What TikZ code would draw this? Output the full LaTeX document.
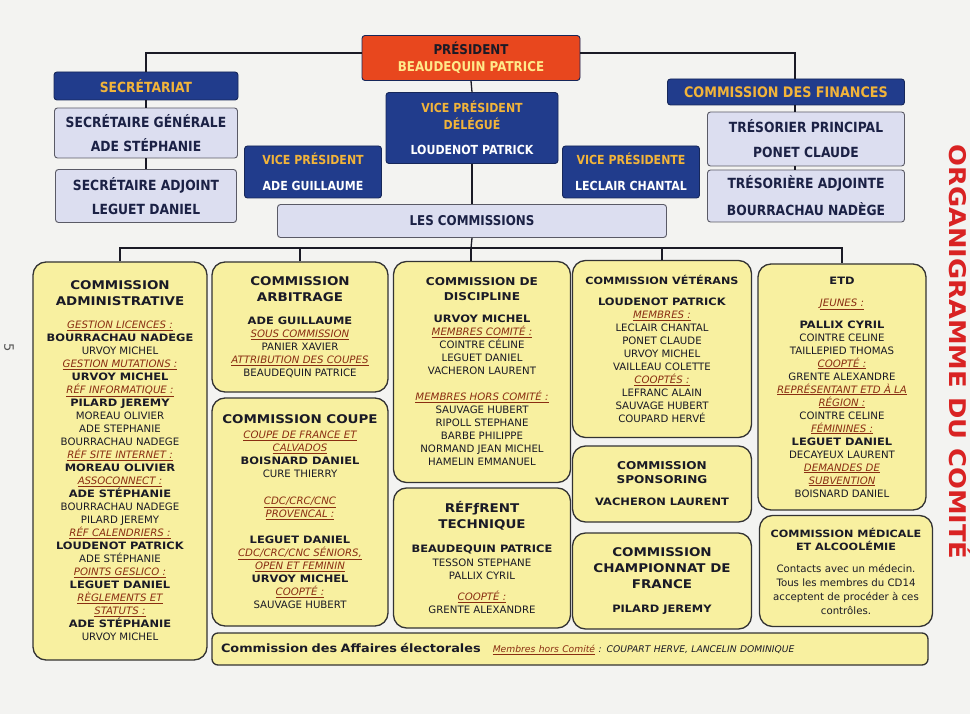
\documentclass[tikz,border=0pt]{standalone}
\usepackage{fontspec}
\setmainfont{DejaVu Sans}[BoldFeatures={FakeStretch=1.12}]
\newfontfamily\condfont[FakeStretch=0.88]{DejaVu Sans}
\usetikzlibrary{positioning}
\definecolor{paper}{HTML}{F3F3F1}
\definecolor{cdred}{HTML}{E8471E}
\definecolor{cdblue}{HTML}{213C8C}
\definecolor{navyline}{HTML}{16275A}
\definecolor{gold}{HTML}{F2B43A}
\definecolor{paleyellow}{HTML}{FFE98A}
\definecolor{lav}{HTML}{DCDEF0}
\definecolor{greyline}{HTML}{5A5A66}
\definecolor{navyink}{HTML}{1B2145}
\definecolor{yel}{HTML}{F8F0A0}
\definecolor{boxline}{HTML}{333333}
\definecolor{ink}{HTML}{1A1A26}
\definecolor{lblred}{HTML}{8A2E12}
\definecolor{titlered}{HTML}{D92323}
\definecolor{pagegrey}{HTML}{555555}
\newcommand{\lbl}[1]{{\itshape\color{lblred}\underline{#1}}}
\newcommand{\topfont}{\condfont\bfseries\fontsize{13.5}{15}\selectfont}
\newcommand{\lavfont}{\condfont\bfseries\fontsize{14}{15}\selectfont}
\newcommand{\headfont}{\bfseries\fontsize{12}{15}\selectfont}
\newcommand{\headsmall}{\bfseries\fontsize{10.8}{14}\selectfont}
\newcommand{\headtiny}{\bfseries\fontsize{10}{13}\selectfont}
\newcommand{\bodyfont}{\fontsize{10.2}{13}\selectfont}
\tikzset{
link/.style={draw=ink, line width=1.3pt},
top box/.style={rounded corners=3pt, line width=0.9pt, align=center, inner sep=1pt, font=\topfont},
blue box/.style={top box, draw=navyline, fill=cdblue, text=white},
lav box/.style={top box, draw=greyline, fill=lav, text=navyink, font=\lavfont},
com box/.style={draw=boxline, fill=yel, rounded corners=13pt, line width=1.3pt, align=center, inner sep=1pt, text=ink, font=\bodyfont}
}
\begin{document}
\begin{tikzpicture}[x=1pt,y=-1pt]
\useasboundingbox (0,0) rectangle (970,714);
\clip (0,0) rectangle (970,714);
\fill[paper] (0,0) rectangle (970,714);
% bureau
\node[top box, draw=navyline, fill=cdred, minimum width=218pt, minimum height=45pt] (pres) at (471,58) {{\color{ink}PRÉSIDENT}\\[2pt] {\color{paleyellow}BEAUDEQUIN PATRICE}};
\node[blue box, font=\condfont\bfseries\fontsize{14}{15}\selectfont, minimum width=184pt, minimum height=28pt] (secr) at (146,86) {\color{gold}SECRÉTARIAT};
\node[blue box, font=\condfont\bfseries\fontsize{14.5}{15}\selectfont, minimum width=237pt, minimum height=26pt] (fin) at (786,92) {\color{gold}COMMISSION DES FINANCES};
\node[blue box, font=\condfont\bfseries\fontsize{12.5}{15}\selectfont, minimum width=172pt, minimum height=71pt] (vpd) at (472,128) {{\color{gold}VICE PRÉSIDENT}\\[2pt] {\color{gold}DÉLÉGUÉ}\\[10pt] LOUDENOT PATRICK};
\node[blue box, font=\condfont\bfseries\fontsize{12.5}{15}\selectfont, minimum width=137pt, minimum height=52pt] (vpa) at (313,172) {{\color{gold}VICE PRÉSIDENT}\\[11pt] ADE GUILLAUME};
\node[blue box, font=\condfont\bfseries\fontsize{12.5}{15}\selectfont, minimum width=137pt, minimum height=52pt] (vpb) at (631,172) {{\color{gold}VICE PRÉSIDENTE}\\[11pt] LECLAIR CHANTAL};
\node[lav box, minimum width=183pt, minimum height=50pt] (sg) at (146,133) {SECRÉTAIRE GÉNÉRALE\\[9pt] ADE STÉPHANIE};
\node[lav box, minimum width=181pt, minimum height=53pt] (sa) at (146,196) {SECRÉTAIRE ADJOINT\\[9pt] LEGUET DANIEL};
\node[lav box, minimum width=197pt, minimum height=54pt] (tp) at (806,139) {TRÉSORIER PRINCIPAL\\[10pt] PONET CLAUDE};
\node[lav box, minimum width=197pt, minimum height=52pt] (ta) at (806,196) {TRÉSORIÈRE ADJOINTE\\[10pt] BOURRACHAU NADÈGE};
\node[lav box, font=\condfont\bfseries\fontsize{13.5}{14}\selectfont, minimum width=389pt, minimum height=33pt] (lc) at (472,221) {LES COMMISSIONS};
% commissions
\node[com box, minimum width=174pt, minimum height=398pt] (adm) at (120,461) {{\headfont COMMISSION}\\[3pt] {\headfont ADMINISTRATIVE}\\[10pt]
\lbl{GESTION LICENCES :}\\ \textbf{BOURRACHAU NADEGE}\\ URVOY MICHEL\\
\lbl{GESTION MUTATIONS :}\\ \textbf{URVOY MICHEL}\\
\lbl{RÉF INFORMATIQUE :}\\ \textbf{PILARD JEREMY}\\ MOREAU OLIVIER\\ ADE STEPHANIE\\ BOURRACHAU NADEGE\\
\lbl{RÉF SITE INTERNET :}\\ \textbf{MOREAU OLIVIER}\\
\lbl{ASSOCONNECT :}\\ \textbf{ADE STÉPHANIE}\\ BOURRACHAU NADEGE\\ PILARD JEREMY\\
\lbl{RÉF CALENDRIERS :}\\ \textbf{LOUDENOT PATRICK}\\ ADE STÉPHANIE\\
\lbl{POINTS GESLICO :}\\ \textbf{LEGUET DANIEL}\\
\lbl{RÈGLEMENTS ET}\\ \lbl{STATUTS :}\\ \textbf{ADE STÉPHANIE}\\ URVOY MICHEL};
\node[com box, minimum width=176pt, minimum height=130pt] (arb) at (300,327) {{\headfont COMMISSION}\\[3pt] {\headfont ARBITRAGE}\\[10pt]
\textbf{ADE GUILLAUME}\\ \lbl{SOUS COMMISSION}\\ PANIER XAVIER\\ \lbl{ATTRIBUTION DES COUPES}\\ BEAUDEQUIN PATRICE};
\node[com box, minimum width=176pt, minimum height=228pt] (coupe) at (300,512) {{\headfont COMMISSION COUPE}\\[2pt]
\lbl{COUPE DE FRANCE ET}\\ \lbl{CALVADOS}\\ \textbf{BOISNARD DANIEL}\\ CURE THIERRY\\[14pt]
\lbl{CDC/CRC/CNC}\\ \lbl{PROVENCAL :}\\[13pt]
\textbf{LEGUET DANIEL}\\ \lbl{CDC/CRC/CNC SÉNIORS,}\\ \lbl{OPEN ET FEMININ}\\ \textbf{URVOY MICHEL}\\ \lbl{COOPTÉ :}\\ SAUVAGE HUBERT};
\node[com box, minimum width=177pt, minimum height=221pt] (disc) at (482,372) {{\headsmall COMMISSION DE}\\[2pt] {\headsmall DISCIPLINE}\\[9pt]
\textbf{URVOY MICHEL}\\ \lbl{MEMBRES COMITÉ :}\\ COINTRE CÉLINE\\ LEGUET DANIEL\\ VACHERON LAURENT\\[13pt]
\lbl{MEMBRES HORS COMITÉ :}\\ SAUVAGE HUBERT\\ RIPOLL STEPHANE\\ BARBE PHILIPPE\\ NORMAND JEAN MICHEL\\ HAMELIN EMMANUEL};
\node[com box, minimum width=177pt, minimum height=140pt] (tech) at (482,558) {{\headfont RÉFƒRENT}\\[3pt] {\headfont TECHNIQUE}\\[11pt]
\textbf{BEAUDEQUIN PATRICE}\\[1pt] TESSON STEPHANE\\ PALLIX CYRIL\\[8pt] \lbl{COOPTÉ :}\\ GRENTE ALEXANDRE};
\node[com box, minimum width=179pt, minimum height=177pt] (vet) at (662,349) {{\headtiny COMMISSION VÉTÉRANS}\\[8pt]
\textbf{LOUDENOT PATRICK}\\ \lbl{MEMBRES :}\\ LECLAIR CHANTAL\\ PONET CLAUDE\\ URVOY MICHEL\\ VAILLEAU COLETTE\\
\lbl{COOPTÉS :}\\ LEFRANC ALAIN\\ SAUVAGE HUBERT\\ COUPARD HERVÉ};
\node[com box, minimum width=179pt, minimum height=76pt] (spons) at (662,484) {{\headsmall COMMISSION}\\[1pt] {\headsmall SPONSORING}\\[9pt] \textbf{VACHERON LAURENT}};
\node[com box, minimum width=179pt, minimum height=96pt] (champ) at (662,581) {{\headfont COMMISSION}\\[3pt] {\headfont CHAMPIONNAT DE}\\[3pt] {\headfont FRANCE}\\[11pt] \textbf{PILARD JEREMY}};
\node[com box, minimum width=168pt, minimum height=246pt] (etd) at (842,387) {\textbf{ETD}\\[9pt] \lbl{JEUNES :}\\[9pt]
\textbf{PALLIX CYRIL}\\ COINTRE CELINE\\ TAILLEPIED THOMAS\\ \lbl{COOPTÉ :}\\ GRENTE ALEXANDRE\\
\lbl{REPRÉSENTANT ETD À LA}\\ \lbl{RÉGION :}\\ COINTRE CELINE\\ \lbl{FÉMININES :}\\ \textbf{LEGUET DANIEL}\\ DECAYEUX LAURENT\\
\lbl{DEMANDES DE}\\ \lbl{SUBVENTION}\\ BOISNARD DANIEL};
\node[com box, minimum width=173pt, minimum height=111pt] (med) at (846,571) {{\headtiny COMMISSION MÉDICALE}\\[0pt] {\headtiny ET ALCOOLÉMIE}\\[9pt]
Contacts avec un médecin.\\[1pt] Tous les membres du CD14\\[1pt] acceptent de procéder à ces\\[1pt] contrôles.};
\node[com box, rounded corners=6pt, minimum height=32pt, text width=698pt, inner xsep=9pt, align=left] (elec) at (570,649) {{\bfseries\fontsize{11.5}{14}\selectfont Commission des Affaires électorales}\hspace{12pt}{\fontsize{9.2}{12}\selectfont\lbl{Membres hors Comité}\itshape\ : COUPART HERVE, LANCELIN DOMINIQUE}};
% titre et page
\node[rotate=-90, anchor=base, inner sep=0pt, text=titlered, font=\bfseries\fontsize{23}{25}\selectfont] (title) at (949,352) {ORGANIGRAMME DU COMITÉ};
\node[rotate=-90, inner sep=0pt, text=pagegrey, font=\fontsize{13}{13}\selectfont] (pagenum) at (9,348) {5};
% liaisons
\draw[link] ([yshift=5pt]pres.west) -| (secr.north);
\draw[link] ([yshift=5pt]pres.east) -| ([xshift=9pt]fin.north);
\draw[link] (pres.south) -- (vpd.north);
\draw[link] (secr.south) -- (sg.north);
\draw[link] (sg.south) -- (sa.north);
\draw[link] ([xshift=9pt]fin.south) -- ([xshift=-11pt]tp.north);
\draw[link] ([xshift=-11pt]tp.south) -- ([xshift=-11pt]ta.north);
\draw[link] (vpd.south) -- (lc.north);
\coordinate (bus) at (471,248);
\draw[link] (lc.south) -- (bus);
\draw[link] (adm.north) |- (bus) -| (etd.north);
\draw[link] (arb.north) -- (arb.north |- bus);
\draw[link] (bus) -- (disc.north -| bus);
\draw[link] (vet.north) -- (vet.north |- bus);
\end{tikzpicture}
\end{document}
